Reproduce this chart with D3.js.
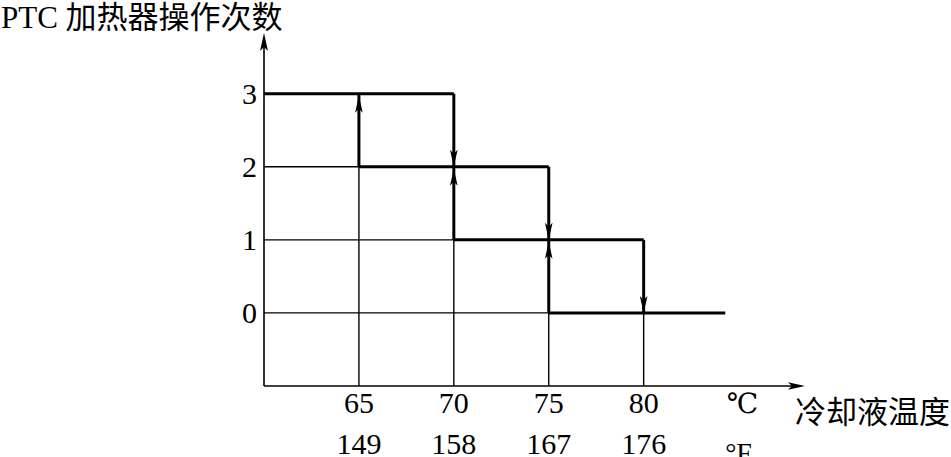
<!DOCTYPE html>
<html>
<head>
<meta charset="utf-8">
<script src="https://cdn.jsdelivr.net/npm/d3@7"></script>
<style>
  html, body { margin: 0; padding: 0; background: #fff; }
  svg { display: block; }
  text { font-family: "Liberation Serif", "DejaVu Serif", "Noto Sans CJK SC", serif; fill: #000; }
</style>
</head>
<body>
<div id="chart"></div>
<script>
// heater count vs coolant temperature (hysteresis steps)
const celsius = [65, 70, 75, 80];
const fahrenheit = [149, 158, 167, 176];
const levels = [0, 1, 2, 3];
const onTemps = [65, 70, 75];   // count rises (2->3, 1->2, 0->1) while cooling
const offTemps = [70, 75, 80];  // count drops (3->2, 2->1, 1->0) while heating
const startTemp = 60;
const endTemp = 84.3;

const W = 951, H = 457;
const svg = d3.select('#chart').append('svg').attr('width', W).attr('height', H);

const x = d3.scaleLinear().domain([60, 88.5]).range([264, 805]);
const y = d3.scaleLinear().domain([-1, 3.83]).range([386, 33]);

const thin = 1.4, heavy = 3;

// thin grid: horizontals up to where the heavy step starts
const g = svg.append('g').attr('stroke', '#000').attr('stroke-width', thin);
[2, 1, 0].forEach((lv, i) => {
  g.append('line')
    .attr('x1', x(startTemp)).attr('x2', x(onTemps[i]))
    .attr('y1', y(lv)).attr('y2', y(lv));
});
// thin verticals from the axis up to the heavy edge
const vTop = [2, 1, 0, 0];
celsius.forEach((t, i) => {
  g.append('line')
    .attr('x1', x(t)).attr('x2', x(t))
    .attr('y1', y(-1)).attr('y2', y(vTop[i]));
});

// heavy step lines
const h = svg.append('g').attr('stroke', '#000').attr('stroke-width', heavy).attr('fill', 'none');
// horizontal plateaus
levels.slice().reverse().forEach((lv, i) => {
  const from = i === 0 ? startTemp : onTemps[i - 1];
  const to = i < offTemps.length ? offTemps[i] : endTemp;
  h.append('line').attr('x1', x(from)).attr('x2', x(to)).attr('y1', y(lv)).attr('y2', y(lv));
});
// vertical transitions
onTemps.forEach((t, i) => {
  h.append('line').attr('x1', x(t)).attr('x2', x(t)).attr('y1', y(2 - i)).attr('y2', y(3 - i));
});
offTemps.forEach((t, i) => {
  h.append('line').attr('x1', x(t)).attr('x2', x(t)).attr('y1', y(3 - i)).attr('y2', y(2 - i));
});

// arrowheads
function arrowHead(tx, ty, dir) {
  // dir: -1 points up, +1 points down, 'r' points right
  const len = 17, hw = 3.8, notch = 4;
  let pts;
  if (dir === 'r') {
    pts = [[tx, ty], [tx - len, ty - hw], [tx - len + notch, ty], [tx - len, ty + hw]];
  } else {
    pts = [[tx, ty], [tx - hw, ty - dir * len], [tx, ty - dir * (len - notch)], [tx + hw, ty - dir * len]];
  }
  svg.append('path').attr('d', 'M' + pts.map(p => p.join(',')).join('L') + 'Z').attr('fill', '#000');
}
onTemps.forEach((t, i) => arrowHead(x(t), y(3 - i) + 2, -1));
offTemps.forEach((t, i) => arrowHead(x(t), y(2 - i), 1));

// axes
const ax = svg.append('g').attr('stroke', '#000').attr('stroke-width', 1.6);
ax.append('line').attr('x1', x(60)).attr('x2', x(60)).attr('y1', y(-1)).attr('y2', y(3.83) + 4);
ax.append('line').attr('x1', x(60)).attr('x2', x(88.5) - 4).attr('y1', y(-1)).attr('y2', y(-1));
// y arrow up
(function() {
  const tx = x(60), ty = y(3.83);
  svg.append('path').attr('d', `M${tx},${ty}L${tx - 4},${ty + 18}L${tx},${ty + 14}L${tx + 4},${ty + 18}Z`).attr('fill', '#000');
})();
arrowHead(x(88.5), y(-1), 'r');

// y tick labels
svg.append('g').selectAll('text').data(levels).enter().append('text')
  .attr('x', x(60) - 7).attr('y', d => y(d)).attr('dy', '0.35em')
  .attr('text-anchor', 'end').attr('font-size', 30).text(d => d);

// x tick labels (celsius and fahrenheit rows)
svg.append('g').selectAll('text').data(celsius).enter().append('text')
  .attr('x', d => x(d)).attr('y', 413).attr('text-anchor', 'middle')
  .attr('font-size', 30).text(d => d);
svg.append('g').selectAll('text').data(fahrenheit).enter().append('text')
  .attr('x', (d, i) => x(celsius[i])).attr('y', 454).attr('text-anchor', 'middle')
  .attr('font-size', 30).text(d => d);

svg.append('text').attr('x', x(85.2)).attr('y', 413).attr('text-anchor', 'middle')
  .attr('font-size', 28).text('℃');
svg.append('text').attr('x', x(85.0)).attr('y', 462).attr('text-anchor', 'middle')
  .attr('font-size', 28).text('°F');

// axis titles
svg.append('text').attr('x', 1).attr('y', 28).attr('font-size', 31).text('PTC 加热器操作次数');
svg.append('text').attr('x', 795).attr('y', 423).attr('font-size', 31).text('冷却液温度');
</script>
</body>
</html>
